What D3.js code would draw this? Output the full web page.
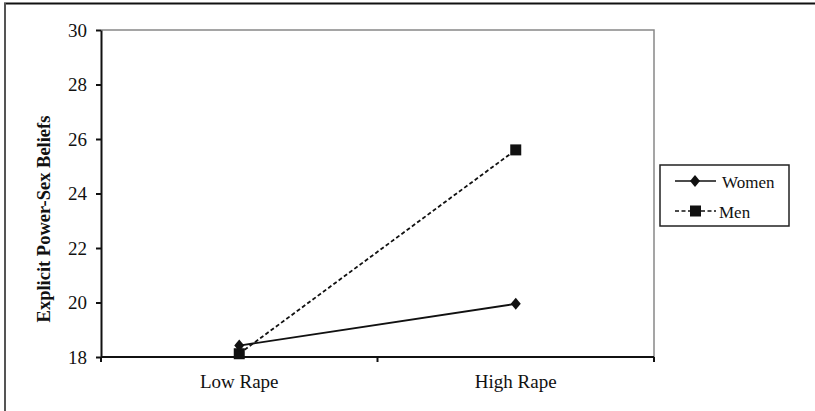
<!DOCTYPE html>
<meta charset="utf-8">
<script src="https://cdn.jsdelivr.net/npm/d3@7/dist/d3.min.js"></script>
<style>
body { margin: 0; background: #fff; }
text { font-family: "Liberation Serif", "Times New Roman", serif; fill: #111; }
.axis path, .axis line { stroke: #111; stroke-width: 2px; }
</style>
<body>
<script>

// data
var categories = ["Low Rape", "High Rape"];
var women = [18.42, 19.95];
var men = [18.12, 25.6];
var yTicks = [18, 20, 22, 24, 26, 28, 30];
var seriesNames = ["Women", "Men"];

var width = 815, height = 411;
var pLeft = 101, pTop = 30, pRight = 654, pBottom = 357;

var svg = d3.select("body").append("svg")
    .attr("width", width)
    .attr("height", height);

// outer frame (top + left only)
svg.append("line").attr("x1", 4).attr("x2", width).attr("y1", 3.5).attr("y2", 3.5)
    .attr("stroke", "#111").attr("stroke-width", 2);
svg.append("line").attr("x1", 5).attr("x2", 5).attr("y1", 3).attr("y2", height)
    .attr("stroke", "#555").attr("stroke-width", 2);

var x = d3.scaleBand().domain(categories).range([pLeft, pRight]);
var y = d3.scaleLinear().domain([18, 30]).range([pBottom, pTop]);

// plot area border (top + right, gray)
svg.append("path")
    .attr("d", "M" + pLeft + "," + pTop + "H" + pRight + "V" + pBottom)
    .attr("fill", "none").attr("stroke", "#888").attr("stroke-width", 1.5);

// y axis
var yAxis = svg.append("g").attr("class", "axis")
    .attr("transform", "translate(" + pLeft + ",0)")
    .call(d3.axisLeft(y).tickValues(yTicks).tickSize(5).tickSizeOuter(0).tickPadding(9));
yAxis.selectAll("text").style("font-size", "19px").style("font-family", "Liberation Serif");

// x axis: ticks between categories
var xAxis = svg.append("g").attr("class", "axis")
    .attr("transform", "translate(0," + pBottom + ")");
xAxis.append("line").attr("x1", pLeft).attr("x2", pRight).attr("y1", 0).attr("y2", 0);
xAxis.selectAll(".tk").data([pLeft, (pLeft + pRight) / 2, pRight]).enter()
    .append("line").attr("class", "tk")
    .attr("x1", function(d) { return d; }).attr("x2", function(d) { return d; })
    .attr("y1", 0).attr("y2", 5);
xAxis.selectAll(".lbl").data(categories).enter()
    .append("text").attr("class", "lbl")
    .attr("x", function(d) { return x(d) + x.bandwidth() / 2; })
    .attr("y", 31)
    .attr("text-anchor", "middle")
    .style("font-size", "19px")
    .text(function(d) { return d; });

// y title
svg.append("text")
    .attr("transform", "translate(50,219) rotate(-90)")
    .attr("text-anchor", "middle")
    .style("font-size", "18.5px")
    .style("font-weight", "bold")
    .text("Explicit Power-Sex Beliefs");

var cx = function(i) { return x(categories[i]) + x.bandwidth() / 2; };
var line = d3.line().x(function(d, i) { return cx(i); }).y(function(d) { return y(d); });

var diamond = "M0,-6L5,0L0,6L-5,0Z";

// men (dashed, squares)
svg.append("path").datum(men)
    .attr("d", line).attr("fill", "none")
    .attr("stroke", "#111").attr("stroke-width", 1.8).attr("stroke-dasharray", "4,2.5");
svg.selectAll(".sq").data(men).enter().append("rect").attr("class", "sq")
    .attr("x", function(d, i) { return cx(i) - 5.5; })
    .attr("y", function(d) { return y(d) - 5.5; })
    .attr("width", 11).attr("height", 11).attr("fill", "#111");

// women (solid, diamonds)
svg.append("path").datum(women)
    .attr("d", line).attr("fill", "none")
    .attr("stroke", "#111").attr("stroke-width", 1.8);
svg.selectAll(".dm").data(women).enter().append("path").attr("class", "dm")
    .attr("d", diamond)
    .attr("transform", function(d, i) { return "translate(" + cx(i) + "," + y(d) + ")"; })
    .attr("fill", "#111");

// legend
var lg = svg.append("g").attr("transform", "translate(660,165)");
lg.append("rect").attr("width", 129).attr("height", 61)
    .attr("fill", "#fff").attr("stroke", "#222").attr("stroke-width", 1.5);
seriesNames.forEach(function(name, i) {
  var yy = 16 + i * 30;
  var g = lg.append("g");
  g.append("line").attr("x1", 15).attr("x2", 56).attr("y1", yy).attr("y2", yy)
      .attr("stroke", "#111").attr("stroke-width", 1.5)
      .attr("stroke-dasharray", i == 1 ? "4,2.5" : null);
  if (i == 0) {
    g.append("path").attr("d", diamond).attr("transform", "translate(35," + yy + ")").attr("fill", "#111");
  } else {
    g.append("rect").attr("x", 30).attr("y", yy - 5.5).attr("width", 11).attr("height", 11).attr("fill", "#111");
  }
  g.append("text").attr("x", i == 0 ? 62 : 59).attr("y", yy + 7)
      .style("font-size", "17px").text(name);
});

</script>
</body>
